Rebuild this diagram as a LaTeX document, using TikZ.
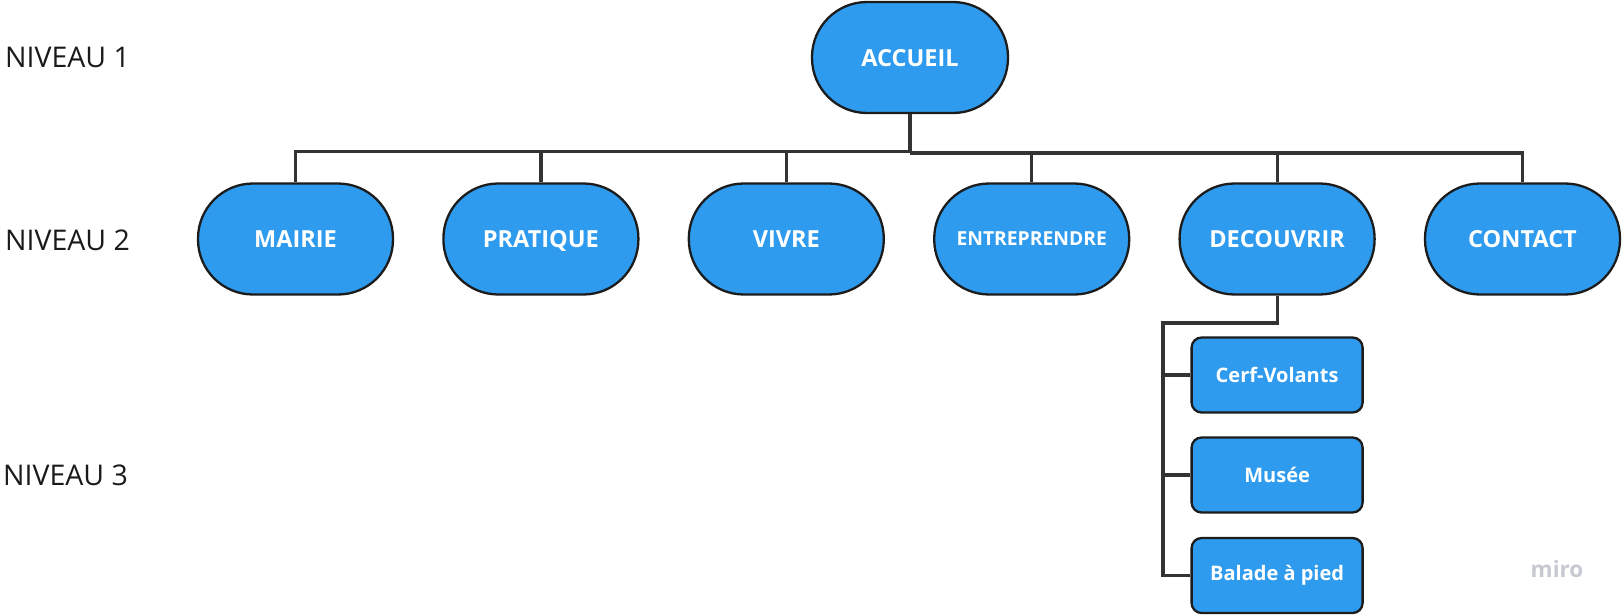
\documentclass[tikz,border=0pt]{standalone}
\usepackage{fontspec}
\setmainfont{Open Sans}
\definecolor{boxblue}{HTML}{2E9BEF}
\definecolor{boxline}{HTML}{1C1C1C}
\definecolor{connline}{HTML}{333333}
\definecolor{lvltext}{HTML}{1A1A1A}
\definecolor{mirogray}{HTML}{C6C9D1}
\begin{document}
\begin{tikzpicture}[x=1pt,y=-1pt,
  pill/.style={draw=boxline, line width=2.3pt, fill=boxblue, rounded corners=55pt,
    minimum width=195pt, minimum height=111pt, inner sep=0pt, text=white, text depth=0pt,
    font=\bfseries\fontsize{23.5}{28}\selectfont},
  smallpill/.style={pill, font=\bfseries\fontsize{19.3}{24}\selectfont},
  subbox/.style={draw=boxline, line width=2.3pt, fill=boxblue, rounded corners=10pt,
    minimum width=171pt, minimum height=75pt, inner sep=0pt, text=white,
    font=\bfseries\fontsize{20}{24}\selectfont},
  lvl/.style={anchor=west, inner sep=0pt, text=lvltext, font=\fontsize{28.5}{34}\selectfont},
  conn/.style={draw=connline, line width=3.2pt}]
\useasboundingbox (0,0) rectangle (1624,615);

% level labels
\node[lvl] (n1) at (5,57.5) {NIVEAU 1};
\node[lvl] (n2) at (5,240) {NIVEAU 2};
\node[lvl] (n3) at (3,475.5) {NIVEAU 3};

% level 1
\node[pill, minimum width=196pt] (acc) at (910,57.5) {ACCUEIL};

% level 2
\node[pill] (mairie) at (295.5,239) {MAIRIE};
\node[pill] (pratique) at (540.9,239) {PRATIQUE};
\node[pill] (vivre) at (786.3,239) {VIVRE};
\node[smallpill] (entre) at (1031.7,239) {ENTREPRENDRE};
\node[pill] (decouv) at (1277.1,239) {DECOUVRIR};
\node[pill] (contact) at (1522.5,239) {CONTACT};

% level 3
\node[subbox] (cerf) at (1277.1,375) {Cerf-Volants};
\node[subbox] (musee) at (1277.1,475) {Musée};
\node[subbox] (balade) at (1277.1,575.5) {Balade à pied};

% connectors level 1 -> 2
\coordinate (busL) at (acc.south |- 0,151.5);
\coordinate (busR) at (acc.south |- 0,153);
\draw[conn] (acc.south) -- (busR);
\draw[conn] (mairie.north) |- (busL);
\draw[conn] (pratique.north) -- (pratique.north |- busL);
\draw[conn] (vivre.north) -- (vivre.north |- busL);
\draw[conn] (busR) -| (contact.north);
\draw[conn] (entre.north) -- (entre.north |- busR);
\draw[conn] (decouv.north) -- (decouv.north |- busR);

% connectors level 2 -> 3
\coordinate (spine) at (1163,323);
\draw[conn] (decouv.south) |- (spine) -- (spine |- balade.west) -- (balade.west);
\draw[conn] (spine |- cerf.west) -- (cerf.west);
\draw[conn] (spine |- musee.west) -- (musee.west);

% watermark
\node[anchor=center, inner sep=0pt, text=mirogray, font=\bfseries\fontsize{22.5}{26}\selectfont] (miro) at (1557,569) {miro};
\end{tikzpicture}
\end{document}
